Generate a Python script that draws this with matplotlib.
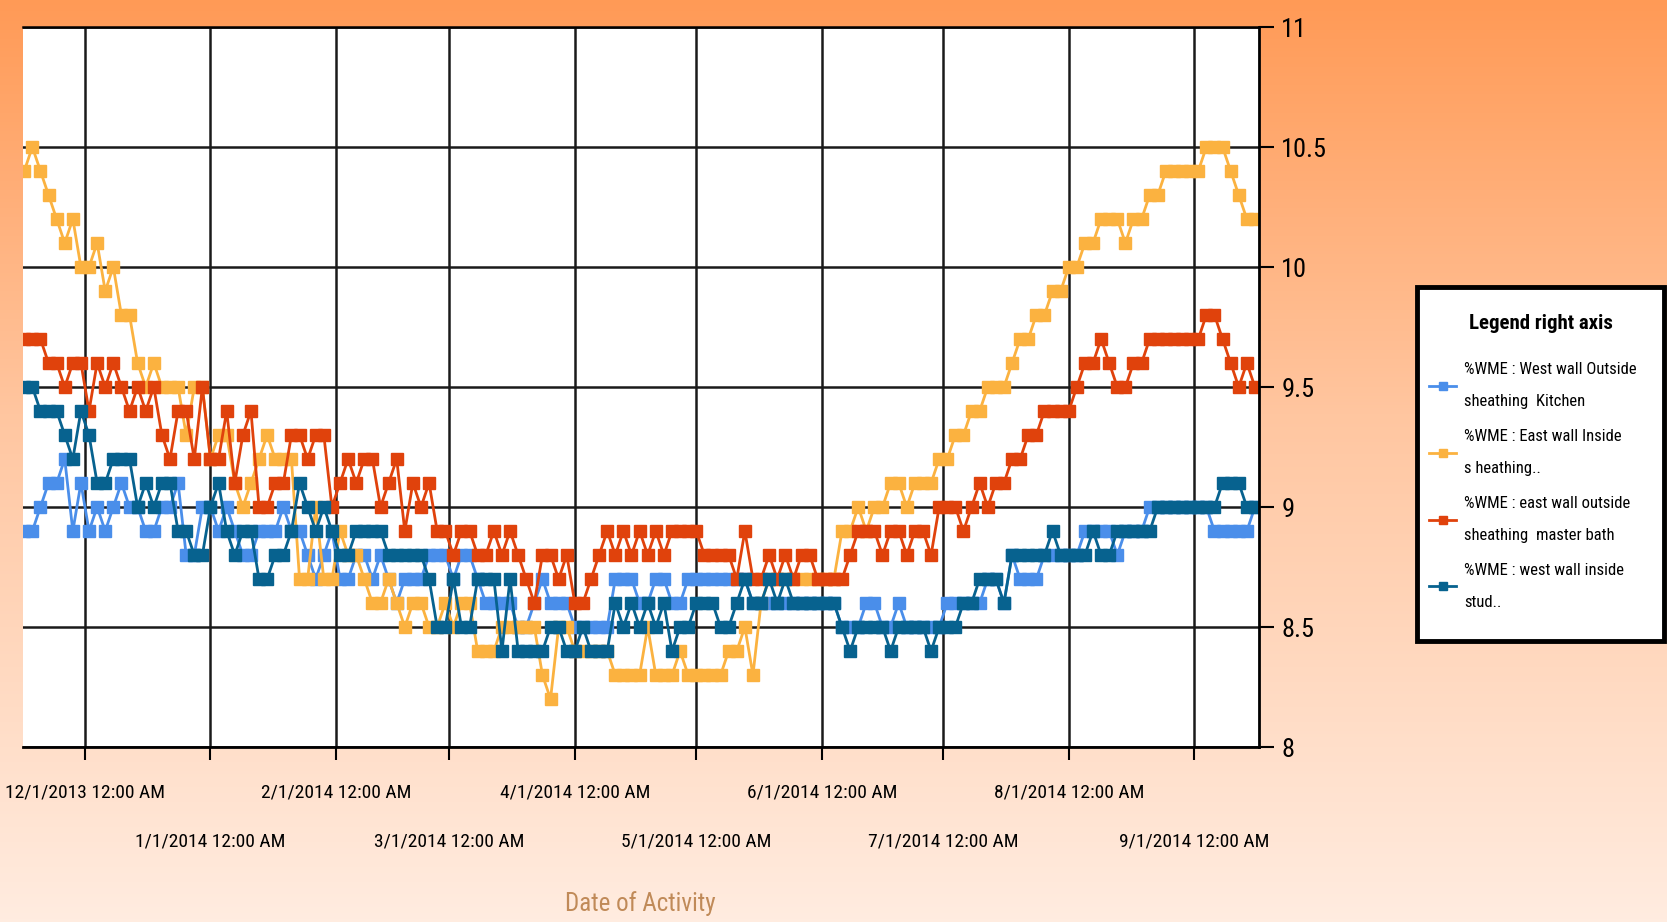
import numpy as np
import matplotlib
matplotlib.use("Agg")
import matplotlib.pyplot as plt
from matplotlib.patches import Rectangle
from datetime import datetime

plt.rcParams['font.family'] = ['Roboto Condensed', 'Liberation Sans', 'DejaVu Sans']

# readings every 2 days, 11/16/2013 .. 9/16/2014
dates = np.arange(np.datetime64('2013-11-16'), np.datetime64('2014-09-17'), np.timedelta64(2, 'D'))

west_outside_kitchen = [
    8.9, 8.9, 9.0, 9.1, 9.1, 9.2, 8.9, 9.1, 8.9, 9.0,
    8.9, 9.0, 9.1, 9.0, 9.0, 8.9, 8.9, 9.0, 9.0, 9.1,
    8.8, 8.8, 9.0, 9.0, 8.9, 9.0, 8.9, 8.8, 8.8, 8.9,
    8.9, 8.9, 9.0, 8.9, 8.9, 8.8, 8.7, 8.8, 8.9, 8.7,
    8.7, 8.8, 8.8, 8.7, 8.8, 8.7, 8.6, 8.7, 8.7, 8.7,
    8.8, 8.8, 8.8, 8.7, 8.8, 8.8, 8.7, 8.6, 8.6, 8.6,
    8.6, 8.5, 8.5, 8.6, 8.7, 8.6, 8.6, 8.6, 8.5, 8.5,
    8.5, 8.5, 8.5, 8.7, 8.7, 8.7, 8.6, 8.6, 8.7, 8.7,
    8.6, 8.6, 8.7, 8.7, 8.7, 8.7, 8.7, 8.7, 8.7, 8.7,
    8.6, 8.6, 8.6, 8.6, 8.6, 8.6, 8.6, 8.6, 8.6, 8.6,
    8.6, 8.5, 8.5, 8.5, 8.6, 8.6, 8.5, 8.5, 8.6, 8.5,
    8.5, 8.5, 8.5, 8.5, 8.6, 8.6, 8.6, 8.6, 8.6, 8.7,
    8.7, 8.6, 8.8, 8.7, 8.7, 8.7, 8.8, 8.8, 8.8, 8.8,
    8.8, 8.9, 8.9, 8.9, 8.9, 8.8, 8.9, 8.9, 8.9, 9.0,
    9.0, 9.0, 9.0, 9.0, 9.0, 9.0, 9.0, 8.9, 8.9, 8.9,
    8.9, 8.9, 9.0]

east_inside = [
    10.4, 10.5, 10.4, 10.3, 10.2, 10.1, 10.2, 10.0, 10.0, 10.1,
    9.9, 10.0, 9.8, 9.8, 9.6, 9.5, 9.6, 9.5, 9.5, 9.5,
    9.3, 9.5, 9.5, 9.2, 9.3, 9.3, 9.1, 9.0, 9.1, 9.2,
    9.3, 9.2, 9.2, 9.2, 8.7, 8.7, 9.0, 8.7, 8.7, 8.9,
    8.8, 8.8, 8.7, 8.6, 8.6, 8.7, 8.6, 8.5, 8.6, 8.6,
    8.5, 8.5, 8.6, 8.5, 8.6, 8.6, 8.4, 8.4, 8.4, 8.5,
    8.5, 8.5, 8.5, 8.5, 8.3, 8.2, 8.5, 8.5, 8.4, 8.4,
    8.4, 8.4, 8.4, 8.3, 8.3, 8.3, 8.3, 8.5, 8.3, 8.3,
    8.3, 8.4, 8.3, 8.3, 8.3, 8.3, 8.3, 8.4, 8.4, 8.5,
    8.3, 8.6, 8.7, 8.7, 8.7, 8.7, 8.7, 8.7, 8.7, 8.7,
    8.7, 8.9, 8.9, 9.0, 8.9, 9.0, 9.0, 9.1, 9.1, 9.0,
    9.1, 9.1, 9.1, 9.2, 9.2, 9.3, 9.3, 9.4, 9.4, 9.5,
    9.5, 9.5, 9.6, 9.7, 9.7, 9.8, 9.8, 9.9, 9.9, 10.0,
    10.0, 10.1, 10.1, 10.2, 10.2, 10.2, 10.1, 10.2, 10.2, 10.3,
    10.3, 10.4, 10.4, 10.4, 10.4, 10.4, 10.5, 10.5, 10.5, 10.4,
    10.3, 10.2, 10.2]

east_outside_bath = [
    9.7, 9.7, 9.7, 9.6, 9.6, 9.5, 9.6, 9.6, 9.4, 9.6,
    9.5, 9.6, 9.5, 9.4, 9.5, 9.4, 9.5, 9.3, 9.2, 9.4,
    9.4, 9.2, 9.5, 9.2, 9.2, 9.4, 9.1, 9.3, 9.4, 9.0,
    9.0, 9.1, 9.1, 9.3, 9.3, 9.2, 9.3, 9.3, 9.0, 9.1,
    9.2, 9.1, 9.2, 9.2, 9.0, 9.1, 9.2, 8.9, 9.1, 9.0,
    9.1, 8.9, 8.9, 8.8, 8.9, 8.9, 8.8, 8.8, 8.9, 8.8,
    8.9, 8.8, 8.7, 8.6, 8.8, 8.8, 8.7, 8.8, 8.6, 8.6,
    8.7, 8.8, 8.9, 8.8, 8.9, 8.8, 8.9, 8.8, 8.9, 8.8,
    8.9, 8.9, 8.9, 8.9, 8.8, 8.8, 8.8, 8.8, 8.7, 8.9,
    8.7, 8.7, 8.8, 8.7, 8.8, 8.7, 8.8, 8.8, 8.7, 8.7,
    8.7, 8.7, 8.8, 8.9, 8.9, 8.9, 8.8, 8.9, 8.9, 8.8,
    8.9, 8.9, 8.8, 9.0, 9.0, 9.0, 8.9, 9.0, 9.1, 9.0,
    9.1, 9.1, 9.2, 9.2, 9.3, 9.3, 9.4, 9.4, 9.4, 9.4,
    9.5, 9.6, 9.6, 9.7, 9.6, 9.5, 9.5, 9.6, 9.6, 9.7,
    9.7, 9.7, 9.7, 9.7, 9.7, 9.7, 9.8, 9.8, 9.7, 9.6,
    9.5, 9.6, 9.5]

west_inside_stud = [
    9.5, 9.5, 9.4, 9.4, 9.4, 9.3, 9.2, 9.4, 9.3, 9.1,
    9.1, 9.2, 9.2, 9.2, 9.0, 9.1, 9.0, 9.1, 9.1, 8.9,
    8.9, 8.8, 8.8, 9.0, 9.1, 8.9, 8.8, 8.9, 8.9, 8.7,
    8.7, 8.8, 8.8, 8.9, 9.1, 9.0, 8.9, 9.0, 8.9, 8.8,
    8.8, 8.9, 8.9, 8.9, 8.9, 8.8, 8.8, 8.8, 8.8, 8.8,
    8.7, 8.5, 8.5, 8.7, 8.5, 8.5, 8.7, 8.7, 8.7, 8.4,
    8.7, 8.4, 8.4, 8.4, 8.4, 8.5, 8.5, 8.4, 8.4, 8.5,
    8.4, 8.4, 8.4, 8.6, 8.5, 8.6, 8.5, 8.6, 8.5, 8.6,
    8.4, 8.5, 8.5, 8.6, 8.6, 8.6, 8.5, 8.5, 8.6, 8.7,
    8.6, 8.6, 8.7, 8.6, 8.7, 8.6, 8.6, 8.6, 8.6, 8.6,
    8.6, 8.5, 8.4, 8.5, 8.5, 8.5, 8.5, 8.4, 8.5, 8.5,
    8.5, 8.5, 8.4, 8.5, 8.5, 8.5, 8.6, 8.6, 8.7, 8.7,
    8.7, 8.6, 8.8, 8.8, 8.8, 8.8, 8.8, 8.9, 8.8, 8.8,
    8.8, 8.8, 8.9, 8.8, 8.8, 8.9, 8.9, 8.9, 8.9, 8.9,
    9.0, 9.0, 9.0, 9.0, 9.0, 9.0, 9.0, 9.0, 9.1, 9.1,
    9.1, 9.0, 9.0]

series_labels = [
    "%WME : West wall Outside\nsheathing  Kitchen",
    "%WME : East wall Inside\ns heathing..",
    "%WME : east wall outside\nsheathing  master bath",
    "%WME : west wall inside\nstud..",
]
colors = ["#4a8eea", "#fbb240", "#e0420c", "#07628f"]

month_starts = [datetime(2013, 12, 1), datetime(2014, 1, 1), datetime(2014, 2, 1), datetime(2014, 3, 1),
                datetime(2014, 4, 1), datetime(2014, 5, 1), datetime(2014, 6, 1), datetime(2014, 7, 1),
                datetime(2014, 8, 1), datetime(2014, 9, 1)]
y_ticks = [8, 8.5, 9, 9.5, 10, 10.5, 11]

fig = plt.figure(figsize=(16.67, 9.22), dpi=100)

# orange background gradient
bg = fig.add_axes([0, 0, 1, 1], zorder=-10)
t = np.linspace(0, 1, 300)[:, None]
top = np.array([255, 154, 86]) / 255
mid = np.array([255, 198, 160]) / 255
bot = np.array([255, 236, 224]) / 255
grad = np.where(t < 0.45, top + (mid - top) * (t / 0.45), mid + (bot - mid) * ((t - 0.45) / 0.55))
bg.imshow(grad[:, None, :], aspect='auto', extent=[0, 1, 0, 1])
bg.axis('off')

ax = fig.add_axes([0.01404, 0.1898, 0.7412, 0.7809])
ax.set_facecolor('white')

series = [west_outside_kitchen, east_inside, east_outside_bath, west_inside_stud]
for vals, lab, c in zip(series, series_labels, colors):
    ax.plot(dates, vals, color=c, lw=2, marker='s', ms=8.5, mec=c, label=lab)

ax.set_xlim(datetime(2013, 11, 15, 19), datetime(2014, 9, 17))
ax.set_ylim(8, 11)

# staggered date labels: even months on first row, odd months on second
ax.set_xticks(month_starts[::2])
ax.set_xticklabels([f"{d.month}/1/{d.year} 12:00 AM" for d in month_starts[::2]])
ax.set_xticks(month_starts[1::2], minor=True)
ax.set_xticklabels([f"{d.month}/1/{d.year} 12:00 AM" for d in month_starts[1::2]], minor=True)
ax.tick_params(axis='x', which='major', length=9, width=1.5, pad=17, labelsize=14)
ax.tick_params(axis='x', which='minor', length=9, width=1.5, pad=52.5, labelsize=14)

ax.yaxis.tick_right()
ax.set_yticks(y_ticks)
ax.set_yticklabels(['8', '8.5', '9', '9.5', '10', '10.5', '11'])
ax.tick_params(axis='y', length=11, width=1.5, pad=5, labelsize=19)

ax.grid(True, which='both', color='#1a1a1a', lw=1.8)
ax.set_axisbelow(True)
ax.spines['left'].set_visible(False)
ax.spines['top'].set_linewidth(1.8)
ax.spines['bottom'].set_linewidth(2)
ax.spines['right'].set_linewidth(2)

fig.text(0.384, 0.02, "Date of Activity", ha='center', va='center', fontsize=18,
         color='#c08a58')

# legend box drawn by hand so the title and entries can be placed like the original
fig.add_artist(Rectangle((0.850, 0.3048), 0.1482, 0.384, transform=fig.transFigure,
                         facecolor='white', edgecolor='black', lw=3.5, zorder=2))
fig.text(0.9241, 0.649, "Legend right axis", ha='center', va='center', fontsize=15,
         fontweight='bold', zorder=3)
handles, labels = ax.get_legend_handles_labels()
leg = fig.legend(handles, labels, loc='upper left', bbox_to_anchor=(0.8575, 0.607),
                 fontsize=12, frameon=False, handlelength=1.6, markerscale=0.6,
                 labelspacing=1.2, borderpad=0, handletextpad=0.5, borderaxespad=0)
for txt in leg.get_texts():
    txt.set_linespacing(2.4)

fig.savefig("out.png", dpi=100)
